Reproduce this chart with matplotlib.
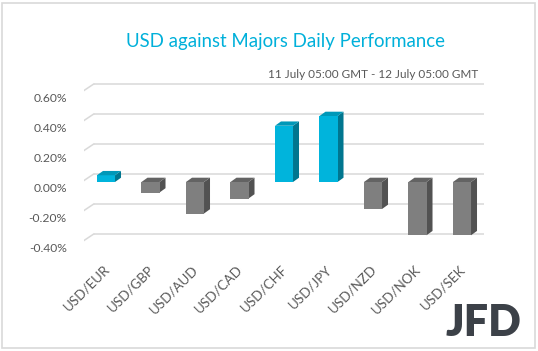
import matplotlib.pyplot as plt
from matplotlib.patches import Polygon, Rectangle
from matplotlib.transforms import offset_copy

pairs = ['USD/EUR', 'USD/GBP', 'USD/AUD', 'USD/CAD', 'USD/CHF',
         'USD/JPY', 'USD/NZD', 'USD/NOK', 'USD/SEK']
perf = [0.045, -0.07, -0.21, -0.11, 0.375, 0.44, -0.18, -0.355, -0.355]
yticks = [0.6, 0.4, 0.2, 0.0, -0.2, -0.4]
ylabels = ['0.60%', '0.40%', '0.20%', '0.00%', '-0.20%', '-0.40%']

plt.rcParams['font.family'] = ['Lato', 'DejaVu Sans']

W, H = 538, 351
fig = plt.figure(figsize=(W / 100, H / 100), dpi=100)
fig.patches.append(Rectangle((2 / W, 3 / H), 533 / W, 345 / H, transform=fig.transFigure,
                             fill=False, edgecolor='#d9d9d9', lw=1.2))

ax = fig.add_axes([83.75 / W, (H - 257) / H, 400.5 / W, 180 / H])
ax.set_xlim(-0.5, 8.5)
ax.set_ylim(-0.5, 0.7)
ax.axis('off')

# pixels -> data units
px_x = 9 / 400.5
px_y = 1.2 / 180

# walls / gridlines (back plane shifted into depth)
ox, oy = 10, 8
for v in yticks:
    ax.plot([-0.5 + ox * px_x, 8.5 + ox * px_x], [v + oy * px_y] * 2,
            color='#d9d9d9', lw=1.1, zorder=1, solid_capstyle='butt')
    ax.plot([-0.5 + (ox - 16.5) * px_x, -0.5 + ox * px_x],
            [v + (oy - 11) * px_y, v + oy * px_y], color='#d9d9d9', lw=1.1, zorder=1)

for v, lab in zip(yticks, ylabels):
    ax.text(-0.5, v, lab, transform=offset_copy(ax.transData, fig, x=-17, y=-6, units='dots'),
            ha='right', va='center', fontsize=8.7, color='#595959')

# 3d-ish bars
bw = 0.405
dx, dy = 6 * px_x, 4.3 * px_y
for i, v in enumerate(perf):
    if v >= 0:
        front, side, top = '#00b4dc', '#00768f', '#0098b8'
    else:
        front, side, top = '#7f7f7f', '#525252', '#636363'
    ax.bar(i, v, width=bw, color=front, zorder=3)
    lo, hi = min(v, 0), max(v, 0)
    r = i + bw / 2
    l = i - bw / 2
    ax.add_patch(Polygon([(r, lo), (r, hi), (r + dx, hi + dy), (r + dx, lo + dy)],
                         closed=True, facecolor=side, edgecolor='none', zorder=2.9))
    ax.add_patch(Polygon([(l, hi), (r, hi), (r + dx, hi + dy), (l + dx, hi + dy)],
                         closed=True, facecolor=top, edgecolor='none', zorder=3.1))

for i, lab in enumerate(pairs):
    ax.text(i, -0.5, lab, transform=offset_copy(ax.transData, fig, x=-3, y=-6, units='dots'),
            rotation=45, rotation_mode='anchor', ha='right', va='top',
            fontsize=9.6, color='#595959')

fig.text(285 / W, 1 - 41 / H, 'USD against Majors Daily Performance', ha='center', va='center',
         fontsize=13.4, color='#00b0da')
fig.text(478 / W, 1 - 74 / H, '11 July 05:00 GMT - 12 July 05:00 GMT', ha='right', va='center',
         fontsize=8.5, color='#595959')
fig.text(521 / W, 1 - 323 / H, 'JFD', ha='right', va='center', fontsize=31,
         fontweight='heavy', color='#3c4148')

fig.savefig('out.png', dpi=100)
